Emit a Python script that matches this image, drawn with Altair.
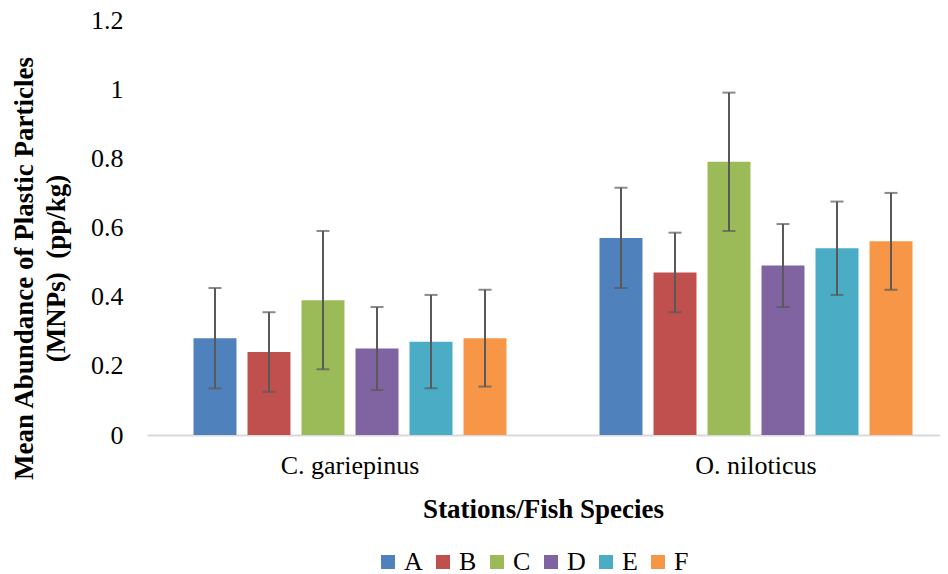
import altair as alt
import pandas as pd

species = ["C. gariepinus", "O. niloticus"]
stations = ["A", "B", "C", "D", "E", "F"]
means_cg = [0.28, 0.24, 0.39, 0.25, 0.27, 0.28]
errs_cg = [0.145, 0.115, 0.20, 0.12, 0.135, 0.14]
means_on = [0.57, 0.47, 0.79, 0.49, 0.54, 0.56]
errs_on = [0.145, 0.115, 0.20, 0.12, 0.135, 0.14]
colors = ["#4F81BD", "#C0504D", "#9BBB59", "#8064A2", "#4BACC6", "#F79646"]
y_ticks = [0, 0.2, 0.4, 0.6, 0.8, 1.0, 1.2]

rows = []
for sp, means, errs in [(species[0], means_cg, errs_cg), (species[1], means_on, errs_on)]:
    for st, m, e in zip(stations, means, errs):
        rows.append({"species": sp, "station": st, "mean": m, "lo": m - e, "hi": m + e})
df = pd.DataFrame(rows)

FONT = "Liberation Serif"

x_enc = alt.X(
    "species:N",
    sort=species,
    scale=alt.Scale(paddingInner=0, paddingOuter=0, range=[0, 812]),
    axis=alt.Axis(
        title="Stations/Fish Species",
        titleFont=FONT, titleFontSize=27, titleFontWeight="bold", titleColor="#000000",
        titleX=396, titleY=82, titleBaseline="alphabetic", titleAlign="center",
        labelFont=FONT, labelFontSize=26, labelColor="#000000", labelAngle=0,
        labelPadding=17, ticks=False, domainColor="#D9D9D9", domainWidth=2,
        grid=False,
    ),
)
xoff_enc = alt.XOffset(
    "station:N", sort=stations,
    scale=alt.Scale(paddingInner=0.204, paddingOuter=0.861),
)
y_scale = alt.Scale(domain=[0, 1.2], nice=False)

bars = alt.Chart(df).mark_bar(stroke=None).encode(
    x=x_enc,
    xOffset=xoff_enc,
    y=alt.Y(
        "mean:Q",
        scale=y_scale,
        axis=alt.Axis(
            values=y_ticks, format="~g", grid=False, domain=False, ticks=False,
            labelFont=FONT, labelFontSize=26, labelColor="#000000", labelPadding=24,
            title=["Mean Abundance of Plastic Particles", "(MNPs)\u00a0\u00a0(pp/kg)"],
            titleFont=FONT, titleFontSize=27, titleFontWeight="bold", titleColor="#000000",
            titleAngle=270, titleX=-115, titleY=248, titleAlign="center",
            titleBaseline="alphabetic", titleLineHeight=32,
        ),
    ),
    color=alt.Color(
        "station:N",
        sort=stations,
        scale=alt.Scale(domain=stations, range=colors),
        legend=alt.Legend(
            title=None, orient="none", direction="horizontal",
            legendX=228, legendY=529, symbolType="square", symbolSize=196,
            symbolStrokeWidth=0, labelFont=FONT, labelFontSize=26, labelColor="#000000",
            labelOffset=3, columnPadding=7, padding=0,
        ),
    ),
)

rules = alt.Chart(df).mark_rule(color="#595959", strokeWidth=2).encode(
    x=alt.X("species:N", sort=species),
    xOffset=alt.XOffset("station:N", sort=stations),
    y=alt.Y("lo:Q", scale=y_scale),
    y2="hi:Q",
)
caps_hi = alt.Chart(df).mark_tick(color="#595959", thickness=2, size=13, orient="horizontal").encode(
    x=alt.X("species:N", sort=species),
    xOffset=alt.XOffset("station:N", sort=stations),
    y=alt.Y("hi:Q", scale=y_scale),
)
caps_lo = alt.Chart(df).mark_tick(color="#595959", thickness=2, size=13, orient="horizontal").encode(
    x=alt.X("species:N", sort=species),
    xOffset=alt.XOffset("station:N", sort=stations),
    y=alt.Y("lo:Q", scale=y_scale),
)

chart = alt.layer(bars, rules, caps_hi, caps_lo).properties(
    width=793,
    height=415,
    autosize=alt.AutoSizeParams(type="none"),
    padding={"left": 139, "top": 12, "right": 0, "bottom": 139},
    background="#FFFFFF",
).configure_view(stroke=None)

chart.save("out.html", embed_options={"renderer": "svg", "actions": False})
